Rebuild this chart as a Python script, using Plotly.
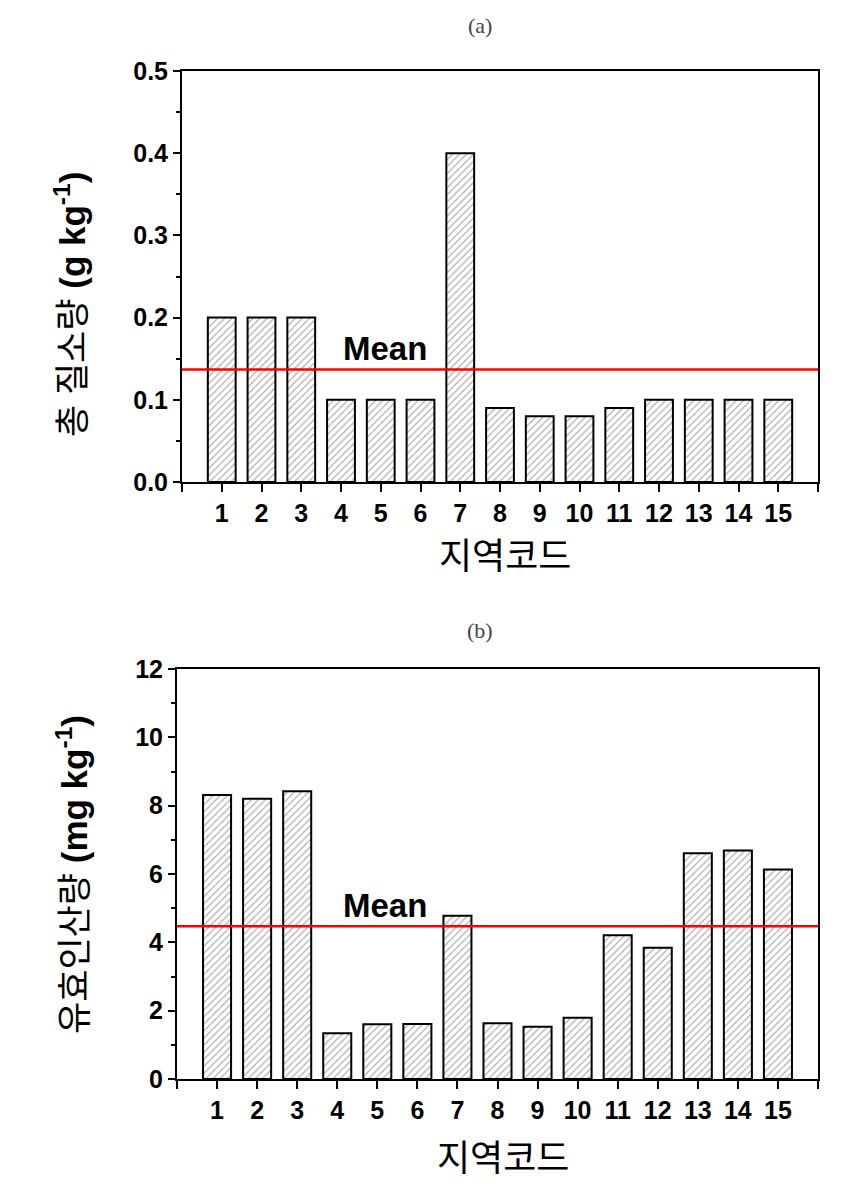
import plotly.graph_objects as go

codes = list(range(1, 16))
nitrogen = [0.2, 0.2, 0.2, 0.1, 0.1, 0.1, 0.4, 0.09, 0.08, 0.08, 0.09, 0.1, 0.1, 0.1, 0.1]
phosphate = [8.31, 8.20, 8.42, 1.34, 1.60, 1.61, 4.78, 1.63, 1.53, 1.79, 4.21, 3.84, 6.61, 6.69, 6.13]
nitrogen_mean = 0.137
phosphate_mean = 4.47

LATIN = "Liberation Sans, Arial, Noto Sans CJK KR"
KOREAN = "Noto Sans CJK KR"
SERIF = "Liberation Serif, DejaVu Serif"

# page body has an 8px margin, so the figure is sized to fit inside the window
W, H = 852, 1185


def px(x):
    return (x - 8) / W


def py(y):
    return 1 - (y - 8) / H


bar_style = dict(
    color='white',
    line=dict(color='black', width=2),
    pattern=dict(shape='/', fgcolor='#555555', bgcolor='white', size=5, solidity=0.22),
)

fig = go.Figure()
fig.add_trace(go.Bar(x=codes, y=nitrogen, width=0.7, marker=bar_style,
                     xaxis='x', yaxis='y', showlegend=False))
fig.add_trace(go.Bar(x=codes, y=phosphate, width=0.7, marker=bar_style,
                     xaxis='x2', yaxis='y2', showlegend=False))

xtick_vals = list(range(0, 17))
xtick_text = [''] + [str(c) for c in codes] + ['']

x_common = dict(
    range=[0, 16], tickvals=xtick_vals, ticktext=xtick_text,
    ticks='outside', ticklen=8, tickwidth=2, tickcolor='black',
    showline=True, linewidth=2, linecolor='black', mirror=True,
    showgrid=False, zeroline=False, automargin=False,
    tickfont=dict(family=LATIN, size=25, color='black', weight='bold'),
)
y_common = dict(
    ticks='outside', ticklen=7, tickwidth=2, tickcolor='black',
    showline=True, linewidth=2, linecolor='black', mirror=True,
    showgrid=False, zeroline=False, automargin=False,
    tickfont=dict(family=LATIN, size=25, color='black', weight='bold'),
)

fig.update_layout(
    width=W, height=H,
    margin=dict(l=0, r=0, t=0, b=0),
    plot_bgcolor='white', paper_bgcolor='white',
    xaxis=dict(domain=[px(182), px(818)], anchor='y', **x_common),
    yaxis=dict(domain=[py(482), py(71)], anchor='x', range=[0, 0.5], dtick=0.1,
               tickformat='.1f',
               minor=dict(dtick=0.05, ticks='outside', ticklen=4, tickwidth=2, tickcolor='black'),
               **y_common),
    xaxis2=dict(domain=[px(177), px(818)], anchor='y2', **x_common),
    yaxis2=dict(domain=[py(1079), py(669)], anchor='x2', range=[0, 12], dtick=2,
                minor=dict(dtick=1, ticks='outside', ticklen=4, tickwidth=2, tickcolor='black'),
                **y_common),
)

# mean lines
fig.add_shape(type='line', xref='x', yref='y', x0=0, x1=16, y0=nitrogen_mean, y1=nitrogen_mean,
              line=dict(color='red', width=2.5))
fig.add_shape(type='line', xref='x2', yref='y2', x0=0, x1=16, y0=phosphate_mean, y1=phosphate_mean,
              line=dict(color='red', width=2.5))


def label(text, x, y, size, family, angle=0, color='black'):
    return dict(text=text, x=px(x), y=py(y), xref='paper', yref='paper',
                xanchor='center', yanchor='middle', textangle=angle, showarrow=False,
                font=dict(family=family, size=size, color=color))


annotations = [
    dict(text='Mean', x=5.1, y=nitrogen_mean, xref='x', yref='y', yanchor='bottom',
         showarrow=False, font=dict(family=LATIN, size=33, color='black', weight='bold')),
    dict(text='Mean', x=5.2, y=phosphate_mean, xref='x2', yref='y2', yanchor='bottom',
         showarrow=False, font=dict(family=LATIN, size=33, color='black', weight='bold')),
    label('(a)', 480, 25, 22, SERIF, color='#444444'),
    label('(b)', 480, 630, 22, SERIF, color='#444444'),
    label('지역코드', 505, 553, 36, KOREAN),
    label('지역코드', 503, 1155, 36, KOREAN),
    label('총 질소량 <b>(g kg<sup>-1</sup>)</b>', 70, 305, 35, LATIN, angle=-90),
    label('유효인산량 <b>(mg kg<sup>-1</sup>)</b>', 72, 875, 35, LATIN, angle=-90),
]
fig.update_layout(annotations=annotations)

fig.write_html("out.html")
